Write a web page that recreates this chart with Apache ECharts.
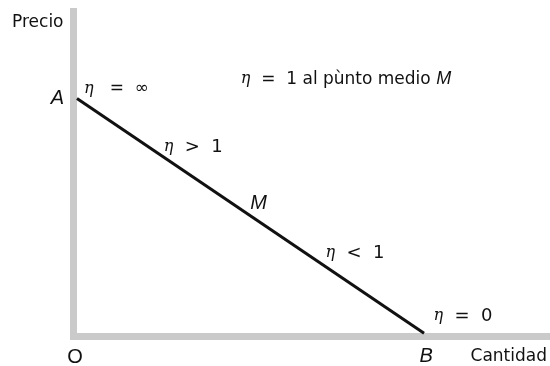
<!DOCTYPE html>
<html>
<head>
<meta charset="utf-8">
<script src="https://cdn.jsdelivr.net/npm/echarts@6/dist/echarts.min.js"></script>
<style>
  html, body { margin: 0; padding: 0; background: #ffffff; }
  #chart { width: 550px; height: 366px; }
</style>
</head>
<body>
<div id="chart"></div>
<script>
// Straight-line demand curve: A on the price axis, B on the quantity axis
const demandQuantity = [0, 100];
const demandPrice = [70, 0];
const endpointNames = ['A', 'B'];

// Origin of the diagram
const originName = 'O';

// Elasticity notes along the curve (text, quantity, price)
const noteTexts = [
  '{e|η}   =  ∞',
  '{e|η}  =  1 al pùnto medio {i|M}',
  '{e|η}  >  1',
  '{e|η}  <  1',
  '{e|η}  =  0'
];
const noteQuantity = [2.0, 47.2, 25.0, 71.6, 102.7];
const notePrice = [72.9, 75.8, 55.6, 23.9, 5.1];
const noteSizes = [17, 17, 18, 18, 18];

// Axis titles
const priceTitle = 'Precio';
const quantityTitle = 'Cantidad';

const SANS = '"DejaVu Sans", Verdana, sans-serif';
const HELV = '"Liberation Sans", Arial, Helvetica, sans-serif';
const SERIF = '"DejaVu Serif", "Liberation Serif", serif';
const INK = '#111111';
const AXIS_GREY = '#cacaca';

const chart = echarts.init(document.getElementById('chart'), null, { renderer: 'canvas' });

const linePoints = demandQuantity.map((q, i) => ({
  value: [q, demandPrice[i]],
  label: {
    show: true,
    formatter: endpointNames[i],
    position: i === 0 ? 'left' : 'bottom',
    distance: 13,
    offset: i === 0 ? [0, 0] : [2, 0],
    fontFamily: HELV,
    fontStyle: 'italic',
    fontSize: 20,
    color: INK
  }
}));

const midpoint = [
  (demandQuantity[0] + demandQuantity[1]) / 2,
  (demandPrice[0] + demandPrice[1]) / 2
];

const noteData = noteTexts.map((t, i) => ({
  value: [noteQuantity[i], notePrice[i]],
  label: {
    show: true,
    formatter: t,
    position: 'right',
    distance: 0,
    fontFamily: SANS,
    fontSize: noteSizes[i],
    color: INK,
    rich: {
      e: { fontFamily: SERIF, fontStyle: 'italic', fontSize: 16, color: INK },
      i: { fontFamily: HELV, fontStyle: 'italic', fontSize: 18, color: INK }
    }
  }
}));

const labelOnly = { opacity: 1, color: INK };

chart.setOption({
  backgroundColor: '#ffffff',
  animation: false,
  grid: { left: 73.5, right: 0, top: 11.5, bottom: 29.5 },
  xAxis: {
    type: 'value',
    min: -1,
    max: 136,
    name: quantityTitle,
    nameLocation: 'end',
    nameGap: -2,
    nameTextStyle: {
      fontFamily: SANS, fontSize: 17, color: INK,
      align: 'right', verticalAlign: 'top', padding: [12, 0, 0, 0]
    },
    axisLine: { onZero: false, lineStyle: { color: AXIS_GREY, width: 7, cap: 'square' } },
    axisTick: { show: false },
    axisLabel: { show: false },
    splitLine: { show: false }
  },
  yAxis: {
    type: 'value',
    min: -1,
    max: 96,
    name: priceTitle,
    nameLocation: 'end',
    nameGap: -11.5,
    nameTextStyle: {
      fontFamily: SANS, fontSize: 17, color: INK,
      align: 'right', verticalAlign: 'middle', padding: [0, 10, 0, 0]
    },
    axisLine: { onZero: false, lineStyle: { color: AXIS_GREY, width: 7, cap: 'square' } },
    axisTick: { show: false },
    axisLabel: { show: false },
    splitLine: { show: false }
  },
  series: [
    {
      name: 'Demanda',
      type: 'line',
      data: linePoints,
      symbol: 'circle',
      symbolSize: 0,
      showSymbol: true,
      itemStyle: { color: INK },
      lineStyle: { color: INK, width: 3 },
      z: 3
    },
    {
      name: 'Origen',
      type: 'scatter',
      itemStyle: labelOnly,
      data: [{
        value: [0, 0],
        label: {
          show: true, formatter: originName, position: 'bottom', distance: 14,
          offset: [-2, 0], fontFamily: HELV, fontSize: 20, color: INK
        }
      }],
      symbolSize: 0,
      clip: false
    },
    {
      name: 'Punto medio',
      type: 'scatter',
      itemStyle: labelOnly,
      data: [{
        value: midpoint,
        label: {
          show: true, formatter: 'M', position: 'inside', offset: [8, -12],
          fontFamily: HELV, fontStyle: 'italic', fontSize: 20, color: INK
        }
      }],
      symbolSize: 0,
      clip: false
    },
    {
      name: 'Elasticidad',
      type: 'scatter',
      itemStyle: labelOnly,
      data: noteData,
      symbolSize: 0,
      clip: false
    }
  ]
});
</script>
</body>
</html>
